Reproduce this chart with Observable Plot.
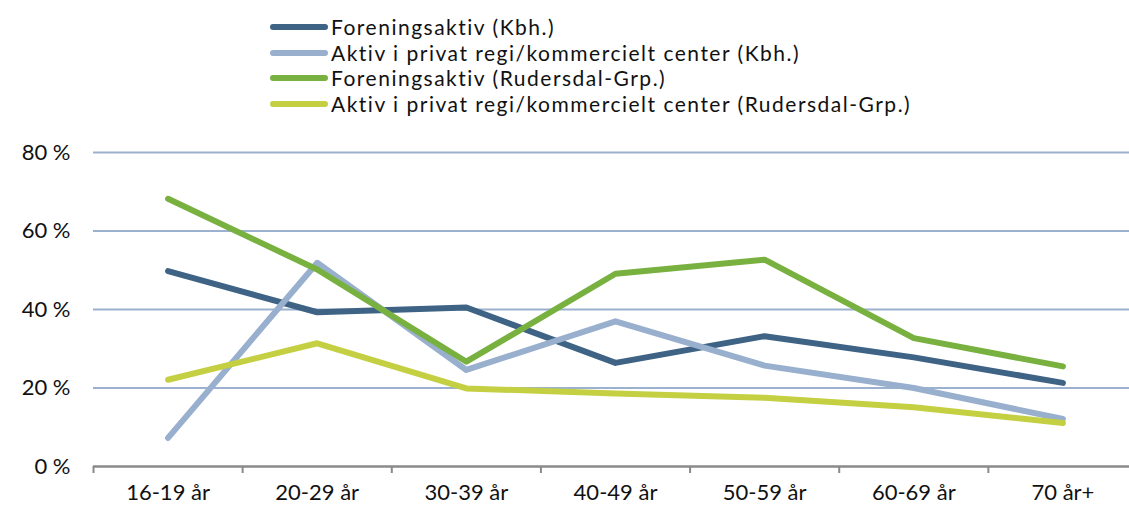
<!DOCTYPE html>
<html>
<head>
<meta charset="utf-8">
<script src="https://cdn.jsdelivr.net/npm/d3@7"></script>
<script src="https://cdn.jsdelivr.net/npm/@observablehq/plot@0.6"></script>
<style>
  html, body { margin: 0; padding: 0; background: #fff; }
  body { width: 1129px; height: 509px; overflow: hidden; font-family: Lato, "Open Sans", sans-serif; color: #111; }
  #legend { height: 130px; box-sizing: border-box; padding: 14px 0 0 270px; }
  .row { display: flex; align-items: center; height: 25.7px; font-size: 21px; line-height: 25.7px; letter-spacing: 1.5px; }
  .sw { width: 58px; height: 6px; border-radius: 3px; margin-right: 3px; flex: none; }
  svg { display: block; font-variant-numeric: oldstyle-nums; }
</style>
</head>
<body>
<div id="legend"></div>
<div id="chart"></div>
<script>
const categories = ["16-19 år", "20-29 år", "30-39 år", "40-49 år", "50-59 år", "60-69 år", "70 år+"];
const seriesNames = [
  "Foreningsaktiv (Kbh.)",
  "Aktiv i privat regi/kommercielt center (Kbh.)",
  "Foreningsaktiv (Rudersdal-Grp.)",
  "Aktiv i privat regi/kommercielt center (Rudersdal-Grp.)"
];
const colors = ["#3e6385", "#98afcd", "#78b13f", "#c4cf42"];
const foreningKbh = [49.8, 39.3, 40.5, 26.4, 33.2, 27.8, 21.3];
const privatKbh = [7.3, 51.9, 24.6, 37.0, 25.7, 20.0, 12.1];
const foreningRud = [68.2, 50.2, 26.7, 49.1, 52.7, 32.7, 25.5];
const privatRud = [22.1, 31.4, 19.9, 18.6, 17.5, 15.1, 11.1];
const yTicks = [0, 20, 40, 60, 80];

const seriesValues = [foreningKbh, privatKbh, foreningRud, privatRud];
const data = [];
seriesValues.forEach((vals, s) => vals.forEach((v, i) => data.push({series: seriesNames[s], i, value: v})));

// legend
const legend = document.getElementById("legend");
seriesNames.forEach((name, s) => {
  const row = document.createElement("div");
  row.className = "row";
  const sw = document.createElement("span");
  sw.className = "sw";
  sw.style.background = colors[s];
  const t = document.createElement("span");
  t.textContent = name;
  row.appendChild(sw); row.appendChild(t);
  legend.appendChild(row);
});

const idx = d3.range(categories.length);
const bounds = d3.range(categories.length + 1).map(k => k - 0.5);

const chart = Plot.plot({
  width: 1129,
  height: 379,
  marginTop: 22,
  marginBottom: 43,
  marginLeft: 93,
  marginRight: 0,
  style: {fontFamily: "Lato, 'Open Sans', sans-serif", fontSize: "22px", color: "#111", background: "#fff"},
  x: {type: "linear", domain: [-0.5, categories.length - 0.5], range: [93, 1137]},
  y: {domain: [0, 80]},
  color: {domain: seriesNames, range: colors},
  marks: [
    Plot.ruleY(yTicks.filter(d => d > 0), {stroke: "#9bb1cf", strokeWidth: 2}),
    Plot.ruleY([0], {stroke: "#8a8a8a", strokeWidth: 2.5}),
    Plot.axisY({ticks: yTicks, tickSize: 0, tickPadding: 23, tickFormat: d => d + " %", fontSize: 22, fill: "#111", label: null}),
    Plot.axisX({ticks: bounds, tickSize: 7, tickFormat: () => "", stroke: "#8a8a8a", strokeWidth: 2, label: null}),
    Plot.axisX({ticks: idx, tickSize: 0, tickPadding: 18, tickFormat: i => categories[i], fontSize: 22, fill: "#111", label: null}),
    Plot.line(data, {x: "i", y: "value", z: "series", stroke: "series", strokeWidth: 6, strokeLinecap: "round", strokeLinejoin: "round"})
  ]
});
document.getElementById("chart").appendChild(chart);
</script>
</body>
</html>
